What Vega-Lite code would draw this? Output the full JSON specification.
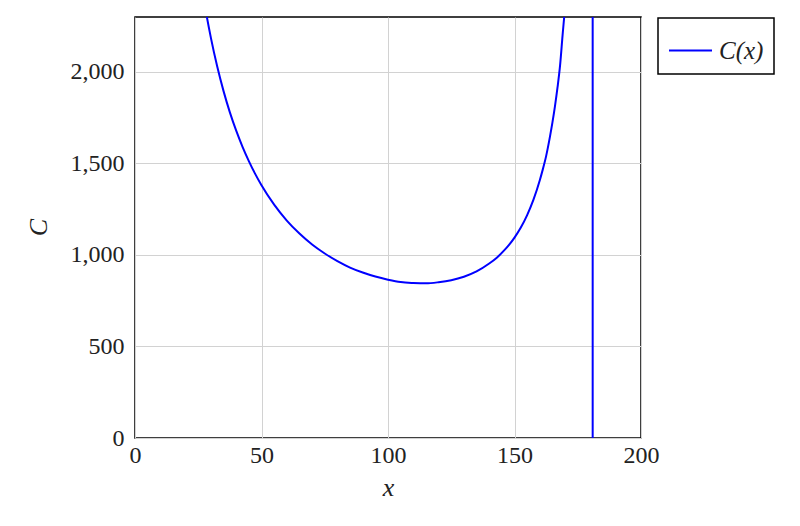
{
  "$schema": "https://vega.github.io/schema/vega-lite/v6.json",
  "autosize": "none",
  "width": 506,
  "height": 421,
  "padding": {"left": 135, "top": 17, "right": 159, "bottom": 88},
  "background": "white",
  "data": {
    "values": [
      {"x": 20, "C": 3210},
      {"x": 22.5, "C": 2868},
      {"x": 25, "C": 2594},
      {"x": 27.5, "C": 2371},
      {"x": 30, "C": 2186},
      {"x": 32.5, "C": 2029},
      {"x": 35, "C": 1895},
      {"x": 37.5, "C": 1779},
      {"x": 40, "C": 1679},
      {"x": 42.5, "C": 1591},
      {"x": 45, "C": 1513},
      {"x": 47.5, "C": 1443},
      {"x": 50, "C": 1381},
      {"x": 55, "C": 1275},
      {"x": 60, "C": 1188},
      {"x": 65, "C": 1117},
      {"x": 70, "C": 1057},
      {"x": 75, "C": 1008},
      {"x": 80, "C": 966},
      {"x": 85, "C": 931},
      {"x": 90, "C": 904},
      {"x": 95, "C": 882},
      {"x": 100, "C": 865},
      {"x": 105, "C": 852},
      {"x": 110, "C": 847},
      {"x": 115, "C": 845},
      {"x": 120, "C": 851},
      {"x": 125, "C": 862},
      {"x": 130, "C": 881},
      {"x": 135, "C": 910},
      {"x": 140, "C": 953},
      {"x": 143, "C": 985},
      {"x": 146, "C": 1026},
      {"x": 148, "C": 1058},
      {"x": 150, "C": 1095},
      {"x": 152.5, "C": 1150},
      {"x": 155, "C": 1218},
      {"x": 157.5, "C": 1302},
      {"x": 160, "C": 1408},
      {"x": 161, "C": 1458},
      {"x": 162.5, "C": 1540},
      {"x": 164, "C": 1645},
      {"x": 165, "C": 1724},
      {"x": 166, "C": 1813},
      {"x": 167, "C": 1915},
      {"x": 168, "C": 2034},
      {"x": 169, "C": 2200},
      {"x": 170, "C": 2360},
      {"x": 171, "C": 2560},
      {"x": 172.5, "C": 2920},
      {"x": 175, "C": 3994},
      {"x": 177.5, "C": 6609},
      {"x": 180, "C": 22317},
      {"x": 180.85, "C": 150000},
      {"x": 180.95, "C": -150000},
      {"x": 182.5, "C": -14354},
      {"x": 185, "C": -5192},
      {"x": 190, "C": -2145},
      {"x": 195, "C": -1280},
      {"x": 200, "C": -875}
    ]
  },
  "mark": {"type": "line", "clip": true, "strokeWidth": 2, "interpolate": "monotone"},
  "encoding": {
    "x": {
      "field": "x",
      "type": "quantitative",
      "scale": {"domain": [0, 200], "nice": false},
      "axis": {
        "values": [0, 50, 100, 150, 200],
        "format": "d",
        "labelFlush": false,
        "title": "x",
        "titleFontStyle": "italic",
        "titleX": 253,
        "titleY": 57,
        "titleBaseline": "alphabetic",
        "labelPadding": 5,
        "labelBaseline": "top"
      }
    },
    "y": {
      "field": "C",
      "type": "quantitative",
      "scale": {"domain": [0, 2300], "nice": false, "zero": false},
      "axis": {
        "values": [0, 500, 1000, 1500, 2000],
        "format": ",d",
        "labelFlush": false,
        "title": "C",
        "titleFontStyle": "italic",
        "titleAngle": -90,
        "titleX": -97,
        "titleY": 210,
        "titleAlign": "center",
        "titleBaseline": "middle",
        "labelPadding": 11
      }
    },
    "color": {
      "datum": "C(x)",
      "scale": {"range": ["#0000ff"]},
      "legend": {"title": null}
    }
  },
  "config": {
    "font": "Liberation Serif",
    "view": {"stroke": "black", "strokeWidth": 1.5},
    "axis": {
      "domain": false,
      "ticks": false,
      "tickSize": 0,
      "grid": true,
      "gridColor": "#d2d2d2",
      "gridWidth": 1,
      "labelFont": "Liberation Serif",
      "labelFontSize": 24,
      "labelColor": "#222222",
      "titleFont": "Liberation Serif",
      "titleFontSize": 26,
      "titleFontWeight": "normal",
      "titleColor": "#222222"
    },
    "legend": {
      "orient": "none",
      "legendX": 523,
      "legendY": 1,
      "strokeColor": "black",
      "strokeWidth": 1.5,
      "fillColor": "white",
      "padding": 10,
      "symbolType": "stroke",
      "symbolSize": 1849,
      "symbolStrokeWidth": 2,
      "labelFont": "Liberation Serif",
      "labelFontStyle": "italic",
      "labelFontSize": 25,
      "labelColor": "#222222",
      "labelOffset": 6
    }
  }
}
